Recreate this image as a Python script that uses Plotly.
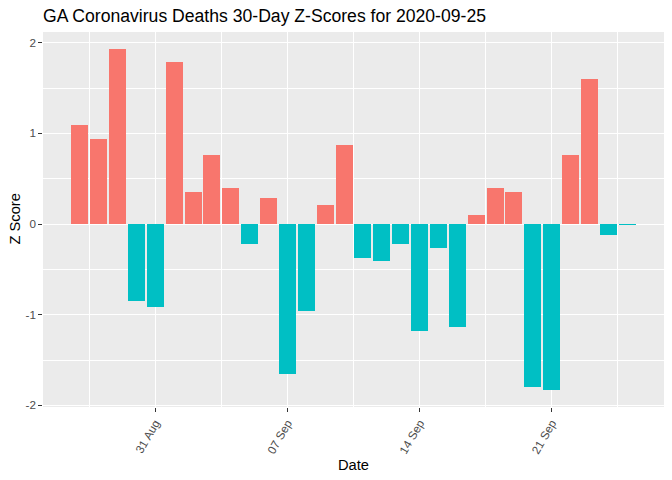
import plotly.graph_objects as go
import pandas as pd

# ---- data ----
dates = pd.date_range("2020-08-27", "2020-09-25", freq="D")
z_scores = [1.09, 0.94, 1.93, -0.85, -0.91, 1.79, 0.35, 0.76, 0.40, -0.22,
            0.29, -1.65, -0.96, 0.21, 0.87, -0.375, -0.41, -0.22, -1.18, -0.265,
            -1.135, 0.10, 0.40, 0.35, -1.80, -1.83, 0.76, 1.60, -0.12, -0.01]
major_breaks = pd.to_datetime(["2020-08-31", "2020-09-07", "2020-09-14", "2020-09-21"])
tick_labels = [d.strftime("%d %b") for d in major_breaks]
y_breaks = [-2, -1, 0, 1, 2]
y_minor = [-1.5, -0.5, 0.5, 1.5]
title_text = "GA Coronavirus Deaths 30-Day Z-Scores for 2020-09-25"
x_title = "Date"
y_title = "Z Score"

POS, NEG = "#F8766D", "#00BFC4"
colors = [POS if v > 0 else NEG for v in z_scores]

day = pd.Timedelta(days=1)
half = 0.45 * day
lo, hi = dates.min() - half, dates.max() + half
pad = (hi - lo) * 0.05
x_range = [lo - pad, hi + pad]

ymin, ymax = min(min(z_scores), 0), max(max(z_scores), 0)
ypad = (ymax - ymin) * 0.05
y_range = [ymin - ypad, ymax + ypad]

week = pd.Timedelta(days=7)
minor_x = [major_breaks[0] - week / 2] + [b + week / 2 for b in major_breaks]

fig = go.Figure(go.Bar(
    x=dates, y=z_scores, marker_color=colors, marker_line_width=0,
    width=0.9 * 86400000, showlegend=False,
))

# the page body adds an 8px offset; size the figure to fill the rest
OFF = 8
W, H = 672 - OFF, 480 - OFF
L, R, T, B = 43 - OFF, 8, 32 - OFF, 73
FONT = "Liberation Sans, Arial, sans-serif"
fig.update_layout(
    width=W, height=H,
    margin=dict(l=L, r=R, t=T, b=B, autoexpand=False),
    paper_bgcolor="white", plot_bgcolor="#EBEBEB",
    font=dict(family=FONT, color="black"),
    title=dict(text=title_text, x=(43 - OFF) / W, xanchor="left", xref="container",
               y=1 - 2 / H, yanchor="top", yref="container",
               font=dict(size=17.6, color="black")),
    bargap=0,
    annotations=[
        dict(text=x_title, xref="paper", yref="paper", x=0.5, y=0,
             xanchor="center", yanchor="middle", yshift=-58, showarrow=False,
             font=dict(size=14.7, color="black")),
        dict(text=y_title, xref="paper", yref="paper", x=0, y=0.5,
             xanchor="center", yanchor="middle", xshift=-29, showarrow=False,
             textangle=-90, font=dict(size=14.7, color="black")),
    ],
)
fig.update_xaxes(
    range=x_range, type="date", automargin=False,
    tickmode="array", tickvals=major_breaks, ticktext=tick_labels,
    tickangle=-60, tickfont=dict(size=11.7, color="#4D4D4D"),
    ticks="outside", ticklen=3.7, tickwidth=1.07, tickcolor="#333333",
    showgrid=True, gridcolor="white", gridwidth=1.07,
    minor=dict(tickmode="array", tickvals=minor_x, showgrid=True,
               gridcolor="white", gridwidth=0.53, ticks=""),
    zeroline=False, showline=False,
)
fig.update_yaxes(
    range=y_range, automargin=False,
    tickmode="array", tickvals=y_breaks, ticktext=[str(v) for v in y_breaks],
    tickfont=dict(size=11.7, color="#4D4D4D"),
    ticks="outside", ticklen=3.7, tickwidth=1.07, tickcolor="#333333",
    showgrid=True, gridcolor="white", gridwidth=1.07,
    minor=dict(tickmode="array", tickvals=y_minor, showgrid=True,
               gridcolor="white", gridwidth=0.53, ticks=""),
    zeroline=False, showline=False,
)

fig.write_html("out.html")
